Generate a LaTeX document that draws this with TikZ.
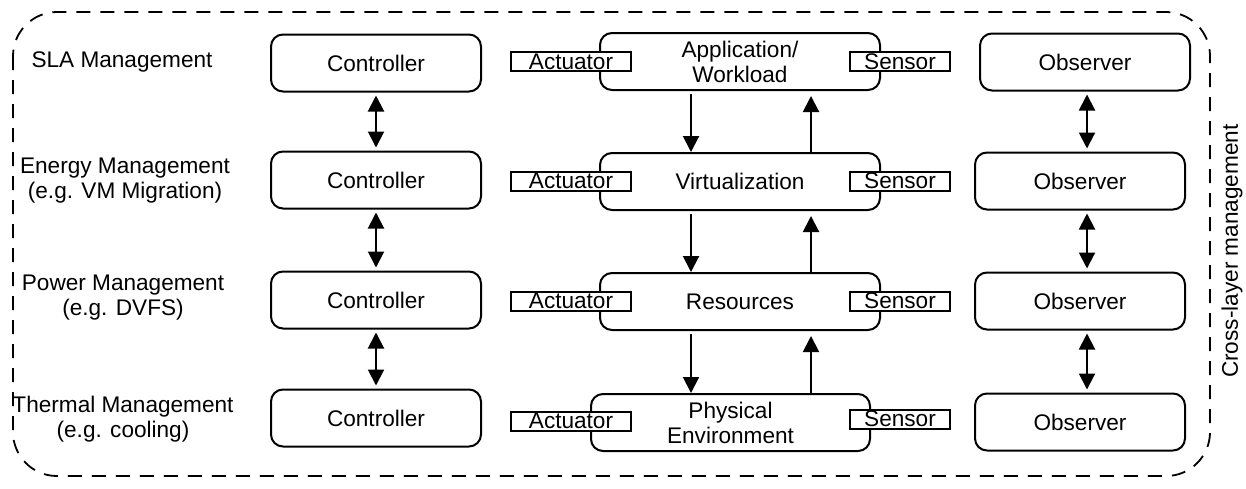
\documentclass[tikz,border=0pt]{standalone}
\usepackage{fontspec}
\setmainfont{Liberation Sans}
\usetikzlibrary{arrows.meta,positioning,calc}

\begin{document}
\begin{tikzpicture}[x=0.5pt,y=-0.5pt,
   every node/.style={font=\fontsize{11.3}{12.5}\selectfont},
   blk/.style={draw,line width=1pt,rounded corners=6pt,minimum width=#1,
     minimum height=28.5pt,inner sep=0pt,align=center},
   tag/.style={draw,line width=1pt,fill=white,minimum width=#1,
     minimum height=9.5pt,inner sep=0pt},
   flow/.style={line width=1pt,-{Triangle[length=8pt,width=8pt]}},
   link/.style={line width=1pt,
     {Triangle[length=8pt,width=8pt]}-{Triangle[length=8pt,width=8pt]},
     shorten <=1.5pt,shorten >=1.5pt}]
  \useasboundingbox (0,0) rectangle (1246,488);
  % cross-layer frame
  \draw[line width=0.9pt,dash pattern=on 7pt off 5pt,rounded corners=22pt]
    (13,12) rectangle (1210,476);
  \node[rotate=90] (cross) at (1232,251) {Cross-layer management};

  % layer names
  \node[align=center] (l1) at (122,62) {SLA Management};
  \node[align=center] (l2) at (125,181) {Energy Management\\(e.g. VM Migration)};
  \node[align=center] (l3) at (123,298) {Power Management\\(e.g. DVFS)};
  \node[align=center] (l4) at (123,419) {Thermal Management\\(e.g. cooling)};

  % controllers and observers
  \foreach \i/\y in {1/63,2/180,3/300,4/418}{
     \node[blk=105pt] (c\i) at (376,\y) {Controller};
  }
  \node[blk=105pt] (o1) at (1085,62) {Observer};
  \foreach \i/\y in {2/181,3/301,4/422}{
     \node[blk=105pt] (o\i) at (1080,\y) {Observer};
  }

  % managed layers
  \node[blk=140pt] (m1) at (740,61.5) {Application/\\Workload};
  \node[blk=140pt] (m2) at (740,181.5) {Virtualization};
  \node[blk=140pt] (m3) at (740,301.5) {Resources};
  \node[blk=139.5pt] (m4) at (730.5,422.5) {Physical\\Environment};
  \foreach \i/\y/\z in {1/61.5/61.5,2/181/181,3/301/301,4/421/419}{
     \node[tag=60pt] (a\i) at (571,\y) {Actuator};
     \node[tag=50pt] (s\i) at (900,\z) {Sensor};
  }

  \coordinate (dn) at (691,0);
  \coordinate (up) at (811,0);
  \coordinate (ob) at (1087,0);
  \foreach \i/\j in {1/2,2/3,3/4}{
     \draw[flow,shorten <=1.5pt] (m\i.south -| dn) -- (m\j.north -| dn);
     \draw[flow,shorten >=2.5pt] (m\j.north -| up) -- (m\i.south -| up);
     \draw[link] (c\i.south) -- (c\j.north);
     \draw[link] (o\i.south -| ob) -- (o\j.north -| ob);
  }
\end{tikzpicture}
\end{document}
